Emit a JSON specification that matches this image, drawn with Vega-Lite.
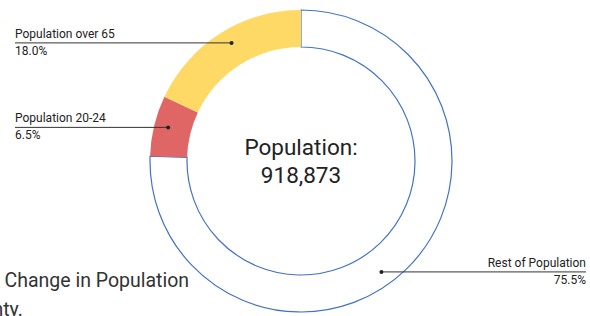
{
  "$schema": "https://vega.github.io/schema/vega-lite/v6.json",
  "width": 590,
  "height": 316,
  "padding": 0,
  "autosize": {"type": "none"},
  "background": "#ffffff",
  "config": {"view": {"stroke": null}, "text": {"font": "Roboto", "color": "#222222"}},
  "datasets": {
    "segments": [
      {"category": "Rest of Population", "pct": 75.5, "order": 1},
      {"category": "Population 20-24", "pct": 6.5, "order": 2},
      {"category": "Population over 65", "pct": 18.0, "order": 3}
    ],
    "center": [{"label": "Population:\n918,873"}],
    "caption": [{"label": "Percent Change in Population\nby County."}]
  },
  "layer": [
    {
      "data": {"name": "caption"},
      "mark": {"type": "text", "align": "left", "baseline": "alphabetic", "fontSize": 19.5, "lineBreak": "\n", "lineHeight": 29, "color": "#333333"},
      "encoding": {
        "x": {"datum": -368, "type": "quantitative", "scale": {"domain": [-301, 289], "nice": false, "zero": false}, "axis": null},
        "y": {"datum": -126, "type": "quantitative", "scale": {"domain": [-155, 161], "nice": false, "zero": false}, "axis": null},
        "text": {"field": "label"}
      }
    },
    {
      "data": {"name": "segments"},
      "mark": {"type": "arc", "outerRadius": 151, "innerRadius": 114, "strokeWidth": 1.2},
      "encoding": {
        "theta": {"field": "pct", "type": "quantitative", "stack": true},
        "order": {"field": "order", "type": "quantitative"},
        "color": {"field": "category", "type": "nominal", "legend": null,
          "scale": {"domain": ["Rest of Population", "Population 20-24", "Population over 65"], "range": ["#ffffff", "#e06666", "#ffd966"]}},
        "stroke": {"field": "category", "type": "nominal", "legend": null,
          "scale": {"domain": ["Rest of Population", "Population 20-24", "Population over 65"], "range": ["#4472c4", "transparent", "transparent"]}},
        "x": {"datum": 0, "type": "quantitative", "scale": {"domain": [-301, 289], "nice": false, "zero": false}, "axis": null},
        "y": {"datum": 0, "type": "quantitative", "scale": {"domain": [-155, 161], "nice": false, "zero": false}, "axis": null}
      }
    },
    {
      "data": {"name": "segments"},
      "transform": [
        {"stack": "pct", "groupby": [], "sort": [{"field": "order"}], "as": ["c0", "c1"]},
        {"calculate": "2*PI*(datum.c0+0.53*(datum.c1-datum.c0))/100", "as": "ang"},
        {"calculate": "137*sin(datum.ang)", "as": "px"},
        {"calculate": "137*cos(datum.ang)", "as": "py"},
        {"calculate": "datum.px < 0 ? -286 : 285", "as": "lx"},
        {"calculate": "format(datum.pct, '.1f') + '%'", "as": "pctLabel"}
      ],
      "layer": [
        {
          "mark": {"type": "rule", "color": "#333333", "strokeWidth": 1},
          "encoding": {
            "x": {"field": "px", "type": "quantitative", "scale": {"domain": [-301, 289], "nice": false, "zero": false}, "axis": null},
            "x2": {"field": "lx"},
            "y": {"field": "py", "type": "quantitative", "scale": {"domain": [-155, 161], "nice": false, "zero": false}, "axis": null}
          }
        },
        {
          "mark": {"type": "circle", "color": "#222222", "size": 16, "opacity": 1},
          "encoding": {
            "x": {"field": "px", "type": "quantitative", "scale": {"domain": [-301, 289], "nice": false, "zero": false}, "axis": null},
            "y": {"field": "py", "type": "quantitative", "scale": {"domain": [-155, 161], "nice": false, "zero": false}, "axis": null}
          }
        },
        {
          "transform": [{"filter": "datum.lx < 0"}],
          "layer": [
            {
              "mark": {"type": "text", "align": "left", "baseline": "alphabetic", "fontSize": 12, "dy": -5},
              "encoding": {
                "x": {"field": "lx", "type": "quantitative", "scale": {"domain": [-301, 289], "nice": false, "zero": false}, "axis": null},
                "y": {"field": "py", "type": "quantitative", "scale": {"domain": [-155, 161], "nice": false, "zero": false}, "axis": null},
                "text": {"field": "category"}
              }
            },
            {
              "mark": {"type": "text", "align": "left", "baseline": "alphabetic", "fontSize": 12, "dy": 12},
              "encoding": {
                "x": {"field": "lx", "type": "quantitative", "scale": {"domain": [-301, 289], "nice": false, "zero": false}, "axis": null},
                "y": {"field": "py", "type": "quantitative", "scale": {"domain": [-155, 161], "nice": false, "zero": false}, "axis": null},
                "text": {"field": "pctLabel"}
              }
            }
          ]
        },
        {
          "transform": [{"filter": "datum.lx > 0"}],
          "layer": [
            {
              "mark": {"type": "text", "align": "right", "baseline": "alphabetic", "fontSize": 12, "dy": -5},
              "encoding": {
                "x": {"field": "lx", "type": "quantitative", "scale": {"domain": [-301, 289], "nice": false, "zero": false}, "axis": null},
                "y": {"field": "py", "type": "quantitative", "scale": {"domain": [-155, 161], "nice": false, "zero": false}, "axis": null},
                "text": {"field": "category"}
              }
            },
            {
              "mark": {"type": "text", "align": "right", "baseline": "alphabetic", "fontSize": 12, "dy": 12},
              "encoding": {
                "x": {"field": "lx", "type": "quantitative", "scale": {"domain": [-301, 289], "nice": false, "zero": false}, "axis": null},
                "y": {"field": "py", "type": "quantitative", "scale": {"domain": [-155, 161], "nice": false, "zero": false}, "axis": null},
                "text": {"field": "pctLabel"}
              }
            }
          ]
        }
      ]
    },
    {
      "data": {"name": "center"},
      "mark": {"type": "text", "align": "center", "baseline": "alphabetic", "fontSize": 22.5, "lineBreak": "\n", "lineHeight": 27.5, "color": "#222222"},
      "encoding": {
        "x": {"datum": 0, "type": "quantitative", "scale": {"domain": [-301, 289], "nice": false, "zero": false}, "axis": null},
        "y": {"datum": 6, "type": "quantitative", "scale": {"domain": [-155, 161], "nice": false, "zero": false}, "axis": null},
        "text": {"field": "label"}
      }
    }
  ]
}
